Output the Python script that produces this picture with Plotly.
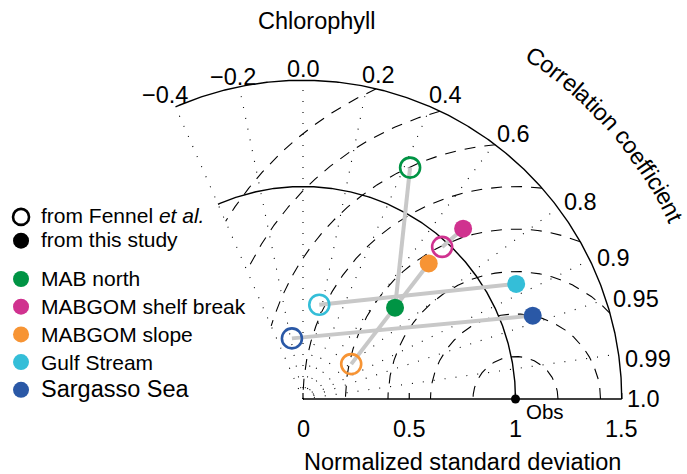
import numpy as np
import plotly.graph_objects as go

# ---------------- data ----------------
regions = ["MAB north", "MABGOM shelf break", "MABGOM slope", "Gulf Stream", "Sargasso Sea"]
colors = ["#009444", "#D0328F", "#F79434", "#34BED8", "#2A58A6"]
fennel_std = [1.20, 0.97, 0.28, 0.45, 0.29]
fennel_corr = [0.42, 0.675, 0.81, 0.17, -0.18]
study_std = [0.61, 1.10, 0.87, 1.14, 1.15]
study_corr = [0.71, 0.685, 0.68, 0.88, 0.94]

corr_ticks = [-0.4, -0.2, 0.0, 0.2, 0.4, 0.6, 0.8, 0.9, 0.95, 0.99, 1.0]
corr_labels = ["\u22120.4", "\u22120.2", "0.0", "0.2", "0.4", "0.6", "0.8", "0.9", "0.95", "0.99", "1.0"]
std_ticks = [0, 0.5, 1, 1.5]
std_labels = ["0", "0.5", "1", "1.5"]
rms_levels = [0.2, 0.4, 0.6, 0.8, 1.0, 1.2, 1.4, 1.6]
std_max = 1.5
ref_std = 1.0

# ---------------- layout constants ----------------
W, H = 687, 474
PX = 212.5            # pixels per unit
OX, OY = 303, 399     # origin in pixels
FONT = "Liberation Sans, Arial, sans-serif"
xr = [-OX / PX, (W - OX) / PX]
yr = [-(H - OY) / PX, OY / PX]
phimax = np.arccos(min(corr_ticks))

fig = go.Figure()

# correlation rays (dotted)
for c in corr_ticks[:-1]:
    a = np.arccos(c)
    fig.add_trace(go.Scatter(x=[0, std_max * np.cos(a)], y=[0, std_max * np.sin(a)], mode="lines",
                             line=dict(color="black", width=1.1, dash="1px,10px"),
                             showlegend=False, hoverinfo="skip"))

# RMS arcs (dashed) centred on the reference point
th = np.linspace(0, np.pi, 2000)
for rho in rms_levels:
    x = ref_std + rho * np.cos(th)
    y = rho * np.sin(th)
    ok = (x ** 2 + y ** 2 <= std_max ** 2 + 1e-9) & (np.arctan2(y, x) <= phimax)
    xs = np.where(ok, x, np.nan)
    ys = np.where(ok, y, np.nan)
    fig.add_trace(go.Scatter(x=xs, y=ys, mode="lines", connectgaps=False,
                             line=dict(color="black", width=1.1, dash="11px,9px"),
                             showlegend=False, hoverinfo="skip"))

# solid arcs at reference std and at max
ph = np.linspace(0, phimax, 400)
for r in [ref_std, std_max]:
    fig.add_trace(go.Scatter(x=r * np.cos(ph), y=r * np.sin(ph), mode="lines",
                             line=dict(color="black", width=1.4), showlegend=False, hoverinfo="skip"))
# baseline
fig.add_trace(go.Scatter(x=[0, std_max], y=[0, 0], mode="lines",
                         line=dict(color="black", width=1.4), showlegend=False, hoverinfo="skip"))
# baseline ticks
tx, ty = [], []
for t in std_ticks:
    tx += [t, t, None]; ty += [0, 6 / PX, None]
fig.add_trace(go.Scatter(x=tx, y=ty, mode="lines", line=dict(color="black", width=1.2),
                         showlegend=False, hoverinfo="skip"))

# connecting lines
for i in range(len(regions)):
    a1 = np.arccos(fennel_corr[i]); a2 = np.arccos(study_corr[i])
    fig.add_trace(go.Scatter(x=[fennel_std[i] * np.cos(a1), study_std[i] * np.cos(a2)],
                             y=[fennel_std[i] * np.sin(a1), study_std[i] * np.sin(a2)],
                             mode="lines", line=dict(color="#C8C8C8", width=4),
                             showlegend=False, hoverinfo="skip"))

# Fennel open circles
for i in range(len(regions)):
    a1 = np.arccos(fennel_corr[i])
    fig.add_trace(go.Scatter(x=[fennel_std[i] * np.cos(a1)], y=[fennel_std[i] * np.sin(a1)],
                             mode="markers",
                             marker=dict(symbol="circle-open", size=20, color=colors[i],
                                         line=dict(width=2.6, color=colors[i])),
                             showlegend=False, hoverinfo="skip"))

# this-study filled circles (also legend entries)
for i in range(len(regions)):
    a2 = np.arccos(study_corr[i])
    fs = 23.5 if i == len(regions) - 1 else 21
    fig.add_trace(go.Scatter(x=[study_std[i] * np.cos(a2)], y=[study_std[i] * np.sin(a2)],
                             mode="markers", marker=dict(symbol="circle", size=18, color=colors[i]),
                             name="<span style='font-size:%spx'>%s</span>" % (fs, regions[i]),
                             legend="legend", showlegend=True, hoverinfo="skip"))

# reference point
fig.add_trace(go.Scatter(x=[ref_std], y=[0], mode="markers",
                         marker=dict(size=9, color="black"), showlegend=False, hoverinfo="skip"))

# source legend entries
fig.add_trace(go.Scatter(x=[None], y=[None], mode="markers",
                         marker=dict(symbol="circle-open", size=16, color="black", line=dict(width=2.6, color="black")),
                         name="<span style='font-size:21px'>from Fennel <i>et al.</i></span>",
                         legend="legend2", showlegend=True))
fig.add_trace(go.Scatter(x=[None], y=[None], mode="markers",
                         marker=dict(symbol="circle", size=16, color="black"),
                         name="<span style='font-size:21px'>from this study</span>",
                         legend="legend2", showlegend=True))

# ---------------- annotations ----------------
ann = []
cw = {"0": .556, "1": .556, "2": .556, "3": .556, "4": .556, "5": .556, "6": .556, "7": .556,
      "8": .556, "9": .556, ".": .278, "\u2212": .584}
TF = 23.5
for c, lab in zip(corr_ticks, corr_labels):
    a = np.arccos(c)
    w = sum(cw.get(ch, .556) for ch in lab) * TF
    rpx = std_max * PX + 5 + (w / 2) * abs(np.cos(a)) + 6 * abs(np.sin(a))
    if 0 < c < 1:
        a2 = a - np.radians(1.5)
    elif c < 0:
        a2 = a + np.radians(0.8)
        rpx -= 5
    else:
        a2 = a
    ann.append(dict(x=rpx * np.cos(a2) / PX, y=rpx * np.sin(a2) / PX, text=lab, showarrow=False,
                    xanchor="center", yanchor="middle", font=dict(size=TF, family=FONT, color="black")))

for t, lab in zip(std_ticks, std_labels):
    ann.append(dict(x=t, y=-29.7 / PX, text=lab, showarrow=False, xanchor="center", yanchor="middle",
                    font=dict(size=TF, family=FONT, color="black")))

ann.append(dict(x=ref_std, y=0, text="Obs", showarrow=False, xanchor="left", yanchor="middle",
                xshift=8, yshift=-12, font=dict(size=20.5, family=FONT, color="black")))
ann.append(dict(x=std_max / 2, y=-62.5 / PX, text="Normalized standard deviation", showarrow=False,
                xanchor="center", yanchor="middle", font=dict(size=TF, family=FONT, color="black")))
ann.append(dict(x=316.5 / W, y=1 - 21 / H, xref="paper", yref="paper", text="Chlorophyll",
                showarrow=False, xanchor="center", yanchor="middle",
                font=dict(size=TF, family=FONT, color="black")))

# curved "Correlation coefficient"
title = "Correlation coefficient"
aw = {"C": .722, "o": .556, "r": .333, "e": .556, "l": .222, "a": .556, "t": .278, "i": .222,
      "n": .556, " ": .278, "c": .5, "f": .278}
rc = 414.0
phi0 = np.radians(55.8)
s = 0.0
w0 = aw[title[0]] * TF
for ch in title:
    wch = aw[ch] * TF
    sc = s + wch / 2 - w0 / 2
    phi = phi0 - sc / rc
    if ch != " ":
        ann.append(dict(x=rc * np.cos(phi) / PX, y=rc * np.sin(phi) / PX, text=ch, showarrow=False,
                        xanchor="center", yanchor="middle", textangle=90 - np.degrees(phi),
                        font=dict(size=TF, family=FONT, color="black")))
    s += wch

fig.update_layout(
    width=W, height=H, autosize=False,
    margin=dict(l=0, r=0, t=0, b=0, pad=0),
    paper_bgcolor="white", plot_bgcolor="white",
    xaxis=dict(range=xr, visible=False, fixedrange=True),
    yaxis=dict(range=yr, visible=False, fixedrange=True),
    annotations=ann,
    legend=dict(x=0.0015, xanchor="left", y=1 - 260.15 / H, yanchor="top",
                font=dict(size=19, family=FONT, color="black"), bgcolor="rgba(0,0,0,0)",
                tracegroupgap=0),
    legend2=dict(x=0.0015, xanchor="left", y=1 - 200.0 / H, yanchor="top",
                 font=dict(size=16, family=FONT, color="black"), bgcolor="rgba(0,0,0,0)"),
    font=dict(family=FONT, color="black"),
    hovermode=False,
)

fig.write_html("out.html", config={"displayModeBar": False},
               post_script="document.body.style.margin='0';document.body.style.padding='0';")
